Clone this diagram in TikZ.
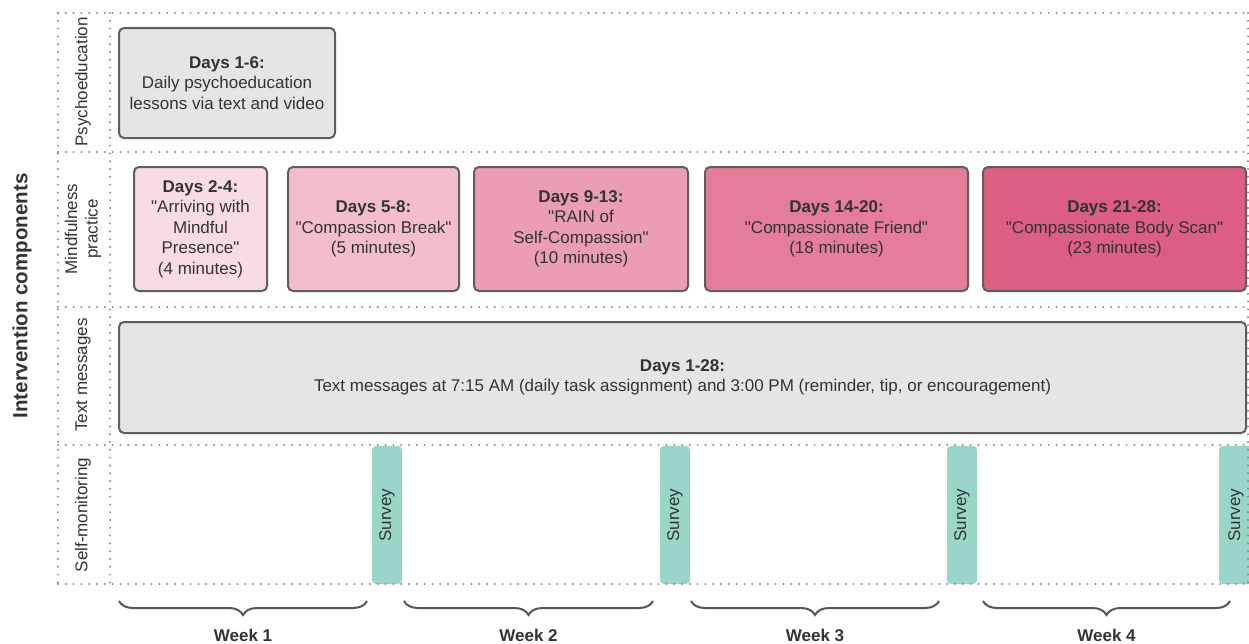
\documentclass[tikz,border=0pt]{standalone}
\usepackage{fontspec}
\setmainfont{Liberation Sans}[Ligatures=TeXOff]
\usetikzlibrary{decorations.pathreplacing}
\definecolor{txt}{HTML}{333333}
\definecolor{boxline}{HTML}{5E5E5E}
\definecolor{dotc}{HTML}{8A8A8A}
\definecolor{grayfill}{HTML}{E5E5E5}
\definecolor{pinkA}{HTML}{F9DCE3}
\definecolor{pinkB}{HTML}{F3BDCC}
\definecolor{pinkC}{HTML}{EB9EB3}
\definecolor{pinkD}{HTML}{E47D9A}
\definecolor{pinkE}{HTML}{DC5E82}
\definecolor{teal}{HTML}{99D5C9}
\definecolor{bracec}{HTML}{555555}
\newcommand\boxfont{\fontsize{17}{20.5}\selectfont}
\begin{document}
\begin{tikzpicture}[x=1pt,y=-1pt,
  box/.style={draw=boxline, line width=2pt, rounded corners=5pt, align=center,
    text=txt, font=\boxfont, inner sep=0pt},
  survey/.style={fill=teal, rounded corners=4pt, text=txt, font=\boxfont,
    rotate=90, inner sep=0pt, minimum width=138pt, minimum height=30pt},
  dotline/.style={draw=dotc, line width=2.2pt, line cap=round, dash pattern=on 0pt off 7.8pt},
  rowlabel/.style={rotate=90, text=txt, font=\boxfont, align=center, inner sep=0pt},
  bracest/.style={draw=bracec, line width=2pt, decorate,
    decoration={brace, mirror, amplitude=14pt}},
  weeklabel/.style={text=txt, font=\boxfont\bfseries, inner sep=0pt}
]
\useasboundingbox (0,0) rectangle (1249,643);
\clip (0,0) rectangle (1249,643);
\fill[white] (0,0) rectangle (1249,643);

% main axis label
\node[rotate=90, text=txt, font=\fontsize{20.5}{24}\selectfont\bfseries, inner sep=0pt] (ic) at (22,296) {Intervention components};

% row labels
\node[rowlabel] (lpsy) at (83,82) {Psychoeducation};
\node[rowlabel] (lmind) at (83,229) {Mindfulness\\practice};
\node[rowlabel] (ltext) at (83,375) {Text messages};
\node[rowlabel] (lself) at (83,515) {Self-monitoring};

% surveys
\node[survey] (s1) at (387,515) {Survey};
\node[survey] (s2) at (675,515) {Survey};
\node[survey] (s3) at (962,515) {Survey};
\node[survey, minimum height=34pt] (s4) at (1236,515) {Survey};

% dotted grid
\draw[dotline] (58,13) -- (1248,13);
\draw[dotline] (58,152) -- (1248,152);
\draw[dotline] (58,307) -- (1248,307);
\draw[dotline] (58,445) -- (1248,445);
\draw[dotline] (58,584) -- (1248,584);
\draw[dotline] (58,13) -- (58,584);
\draw[dotline] (110,13) -- (110,584);
\draw[dotline] (1248,13) -- (1248,584);

% psychoeducation
\node[box, fill=grayfill, minimum width=216pt, minimum height=110pt] (psy) at (227,83)
  {\textbf{Days 1-6:}\\Daily psychoeducation\\lessons via text and video};

% mindfulness practice
\node[box, fill=pinkA, minimum width=133pt, minimum height=124pt] (m1) at (200.5,229)
  {\textbf{Days 2-4:}\\"Arriving with\\Mindful\\Presence"\\(4 minutes)};
\node[box, fill=pinkB, minimum width=171pt, minimum height=124pt] (m2) at (373.5,229)
  {\textbf{Days 5-8:}\\"Compassion Break"\\(5 minutes)};
\node[box, fill=pinkC, minimum width=214pt, minimum height=124pt] (m3) at (581,229)
  {\textbf{Days 9-13:}\\"RAIN of\\Self-Compassion"\\(10 minutes)};
\node[box, fill=pinkD, minimum width=263pt, minimum height=124pt] (m4) at (836.5,229)
  {\textbf{Days 14-20:}\\"Compassionate Friend"\\(18 minutes)};
\node[box, fill=pinkE, minimum width=263pt, minimum height=124pt] (m5) at (1114.5,229)
  {\textbf{Days 21-28:}\\"Compassionate Body Scan"\\(23 minutes)};

% text messages
\node[box, fill=grayfill, minimum width=1127pt, minimum height=111pt] (tm) at (682.5,377.5)
  {\textbf{Days 1-28:}\\Text messages at 7:15 AM (daily task assignment) and 3:00 PM (reminder, tip, or encouragement)};

% week braces
\coordinate (w1a) at (119,601); \coordinate (w1b) at (367,601);
\coordinate (w2a) at (404,601); \coordinate (w2b) at (653,601);
\coordinate (w3a) at (691,601); \coordinate (w3b) at (939,601);
\coordinate (w4a) at (983,601); \coordinate (w4b) at (1230,601);
\draw[bracest] (w1a) -- (w1b);
\draw[bracest] (w2a) -- (w2b);
\draw[bracest] (w3a) -- (w3b);
\draw[bracest] (w4a) -- (w4b);
\node[weeklabel] (wk1) at (243,635) {Week 1};
\node[weeklabel] (wk2) at (528.5,635) {Week 2};
\node[weeklabel] (wk3) at (815,635) {Week 3};
\node[weeklabel] (wk4) at (1106.5,635) {Week 4};
\end{tikzpicture}
\end{document}
